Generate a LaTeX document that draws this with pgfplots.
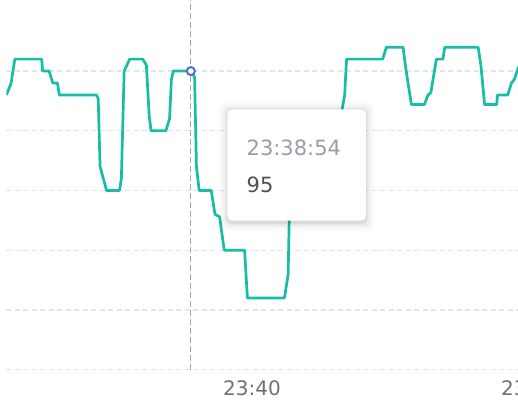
\documentclass[border=0pt]{standalone}
\usepackage{fontspec}
\setmainfont{DejaVu Sans}
\usepackage{pgfplots}
\pgfplotsset{compat=1.18}
\definecolor{teal1}{HTML}{17BDA5}
\definecolor{gridc}{HTML}{E0E6F1}
\definecolor{ptr}{HTML}{A3A7B8}
\definecolor{mk}{HTML}{5470C6}
\definecolor{lbl}{HTML}{6E7079}
\definecolor{tt1}{HTML}{9A9DA6}
\definecolor{tt2}{HTML}{505050}
\pgfplotstableread{
t v
-265 93
-260 94
-256 96
-227 96
-226 95
-219 95
-215 94
-210 94
-208 93
-168 93
-166 92.7
-164 87
-157 85
-143 85
-141 86
-138 95
-132 96
-118 96
-114 95.5
-111 91.3
-109 90
-93 90
-89 91
-87 94.3
-85 95
-66 95
-62 94.5
-60 87
-57 85
-44 85
-40 83
-35 82.8
-30 80
-8 80
-5 76
35 76
39 78
40 82
42 88
94 88
97 91.7
100 93
102 96
141 96
145 97
163 97
166 95.2
172 92.2
186 92.2
190 93
193 93.2
199 96
206 96
208 97
244 97
247 95.5
251 92.2
264 92.2
265 93
276 93
280 94
283 94.3
287 95.2
291 96
}\series
\begin{document}
\begin{tikzpicture}[x=1pt,y=1pt]
\useasboundingbox (0,0) rectangle (518,400);
\begin{axis}[
  at={(7,25.5)}, anchor=south west,
  scale only axis, width=523.5pt, height=372.5pt,
  xmin=-265, xmax=300, ymin=70, ymax=101.2,
  axis line style={draw=none},
  major tick length=0pt,
  ytick={70,75,...,95},
  yticklabels={,,,,,},
  ymajorgrids,
  major grid style={gridc, line width=1.3pt, dash pattern=on 5pt off 3.5pt},
  xtick={0,300},
  xticklabels={23:40,23:45},
  xticklabel style={anchor=base, inner sep=0pt, yshift=-26.2pt, text=lbl, font=\fontsize{20}{24}\selectfont},
]
\addplot[ptr, line width=1.2pt, dash pattern=on 6pt off 3pt] coordinates {(-66,70) (-66,101.2)};
\addplot[teal1, line width=2.7pt, line join=round, no marks] table[x=t,y=v] {\series};
\addplot[only marks, mark=*, mark size=4pt, mark options={draw=mk, fill=white, line width=2pt}] coordinates {(-66,95)};
\end{axis}
% tooltip
\foreach \i/\o in {8/0.015,6/0.02,4/0.03,2/0.04,1/0.05}{
  \fill[black, opacity=\o, rounded corners=6pt] (227.3-\i,179.3-\i-2) rectangle (366+\i,290.7+\i-1);
}
\fill[white, rounded corners=5pt] (227.3,179.3) rectangle (366,290.7);
\node[anchor=base west, inner sep=0pt, text=tt1, font=\fontsize{21}{25}\selectfont] at (246.5,245) {23:38:54};
\node[anchor=base west, inner sep=0pt, text=tt2, font=\fontsize{21}{25}\selectfont] at (246.5,207.7) {95};
\end{tikzpicture}
\end{document}
